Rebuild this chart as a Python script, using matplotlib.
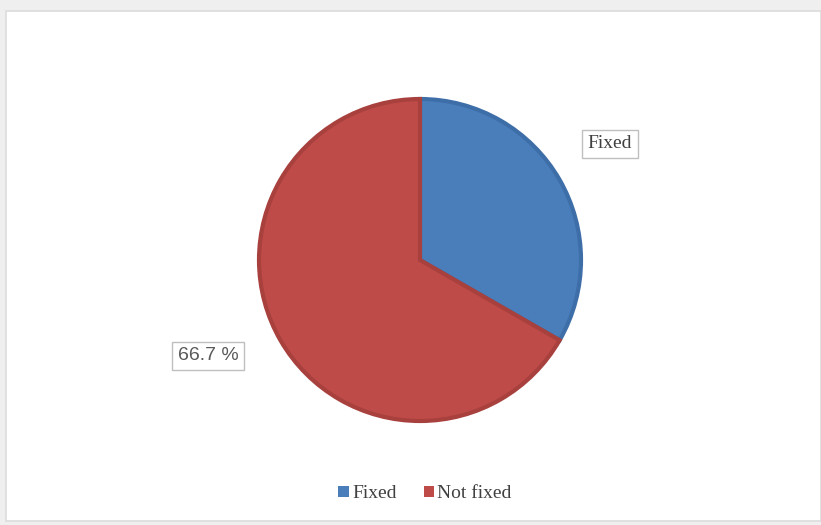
import matplotlib.pyplot as plt
from matplotlib.patches import Rectangle

labels = ["Fixed", "Not fixed"]
shares = [33.3, 66.7]
colors = ["#4a7ebb", "#be4b48"]
edges = ["#3e6ea8", "#a8403d"]

fig = plt.figure(figsize=(8.21, 5.25), dpi=100)
fig.patch.set_facecolor("#efefef")

# white chart area with a thin grey frame
fig.patches.append(Rectangle((6 / 821, 4 / 525), 815 / 821, 510 / 525,
                             transform=fig.transFigure, facecolor="white",
                             edgecolor="#dcdcdc", linewidth=1.2, zorder=-5))

ax = fig.add_axes([259 / 821, 104 / 525, 322 / 821, 322 / 525])
ax.set_zorder(1)
wedges, _ = ax.pie(shares, colors=colors, startangle=90, counterclock=False,
                   radius=1, wedgeprops=dict(linewidth=3))
for w, ec in zip(wedges, edges):
    w.set_edgecolor(ec)
ax.set_xlim(-1.0, 1.0)
ax.set_ylim(-1.0, 1.0)
ax.set_aspect("equal")
ax.axis("off")

box = dict(boxstyle="square,pad=0.3", facecolor="white", edgecolor="#bfbfbf", linewidth=1)
fig.text(610 / 821, 1 - 144 / 525, labels[0], ha="center", va="center",
         fontsize=14, family="Liberation Serif", color="#404040", bbox=box)
fig.text(208 / 821, 1 - 356 / 525, f"{shares[1]} %", ha="center", va="center",
         fontsize=14, family="Liberation Sans", color="#595959", bbox=box)

leg = fig.legend(wedges, labels, loc="center", bbox_to_anchor=(425 / 821, 1 - 494 / 525),
                 ncol=2, frameon=False, handlelength=0.55, handleheight=0.55,
                 handletextpad=0.15, columnspacing=1.4,
                 prop={"family": "Liberation Serif", "size": 14})
for t in leg.get_texts():
    t.set_color("#404040")
for h in leg.legend_handles:
    h.set_linewidth(0)

fig.savefig("out.png", dpi=100, facecolor=fig.get_facecolor())
